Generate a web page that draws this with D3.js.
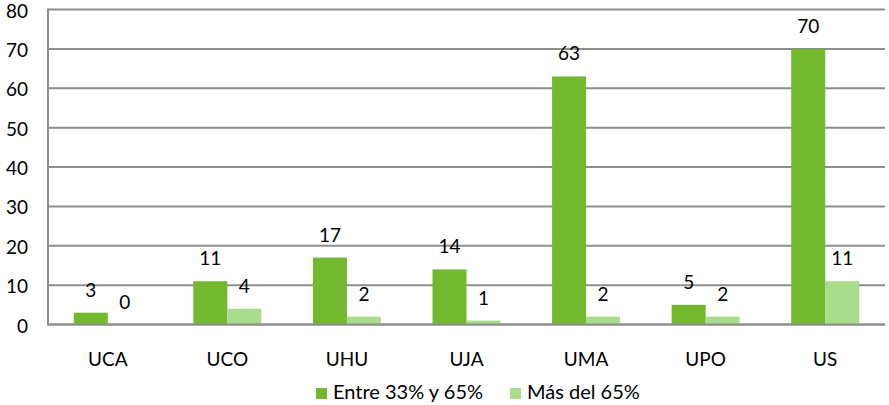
<!DOCTYPE html>
<html><head><meta charset="utf-8">
<script src="https://cdn.jsdelivr.net/npm/d3@7"></script>
<style>body{margin:0;background:#fff}svg{display:block}</style>
</head><body>
<script>
const categories = ["UCA","UCO","UHU","UJA","UMA","UPO","US"];
const seriesNames = ["Entre 33% y 65%","Más del 65%"];
const entre = [3,11,17,14,63,5,70];
const mas = [0,4,2,1,2,2,11];
const yTicks = [0,10,20,30,40,50,60,70,80];
const colors = ["#72b92f","#a9dc8b"];

(function(){
const W=889,H=405;
const svg=d3.select("body").append("svg").attr("width",W).attr("height",H);
const mLeft=48, mRight=885, mTop=9.5, mBottom=324.5;
const x=d3.scaleBand().domain(categories).range([mLeft,mRight]).paddingInner(0).paddingOuter(0);
const y=d3.scaleLinear().domain([0,80]).range([mBottom,mTop]);
const inner=d3.scaleBand().domain([0,1]).range([0,68]);
const font="Lato, 'Open Sans', sans-serif";
const fs=19;

svg.append("g").selectAll("line").data(yTicks).join("line")
  .attr("x1",mLeft).attr("x2",mRight).attr("y1",d=>y(d)).attr("y2",d=>y(d))
  .attr("stroke","#8e8e8e").attr("stroke-width",2);
svg.append("line").attr("x1",mLeft).attr("x2",mLeft).attr("y1",mTop-1).attr("y2",mBottom+1)
  .attr("stroke","#8e8e8e").attr("stroke-width",2);

const yAxis=d3.axisLeft(y).tickValues(yTicks).tickSize(0).tickPadding(20);
const gy=svg.append("g").attr("transform",`translate(${mLeft},0)`).call(yAxis);
gy.select(".domain").remove();
gy.selectAll("text").attr("font-family",font).attr("font-size",fs).attr("fill","#000").attr("dy","0.4em");

const xAxis=d3.axisBottom(x).tickSize(0).tickPadding(28);
const gx=svg.append("g").attr("transform",`translate(0,${mBottom})`).call(xAxis);
gx.select(".domain").remove();
gx.selectAll("text").attr("font-family",font).attr("font-size",fs).attr("fill","#000");

const data=[entre,mas];
data.forEach((vals,si)=>{
  const g=svg.append("g");
  g.selectAll("rect").data(vals).join("rect")
    .attr("x",(d,i)=>x(categories[i])+x.bandwidth()/2-34+inner(si))
    .attr("width",inner.bandwidth())
    .attr("y",d=>y(d)).attr("height",d=>mBottom-y(d))
    .attr("fill",colors[si]);
  g.selectAll("text").data(vals).join("text")
    .attr("x",(d,i)=>x(categories[i])+x.bandwidth()/2-34+inner(si)+inner.bandwidth()/2)
    .attr("y",d=>y(d)-16)
    .attr("text-anchor","middle")
    .attr("font-family",font).attr("font-size",fs).attr("fill","#000")
    .text(d=>d);
});
svg.append("line").attr("x1",mLeft-1).attr("x2",mRight).attr("y1",mBottom).attr("y2",mBottom)
  .attr("stroke","#8e8e8e").attr("stroke-width",2);

const leg=svg.append("g");
const legX=[316,510];
seriesNames.forEach((n,i)=>{
  leg.append("rect").attr("x",legX[i]).attr("y",388).attr("width",11).attr("height",11).attr("fill",colors[i]);
  leg.append("text").attr("x",legX[i]+17).attr("y",399).attr("font-family",font).attr("font-size",fs+1).attr("fill","#000").text(n);
});
})();
</script>
</body></html>
